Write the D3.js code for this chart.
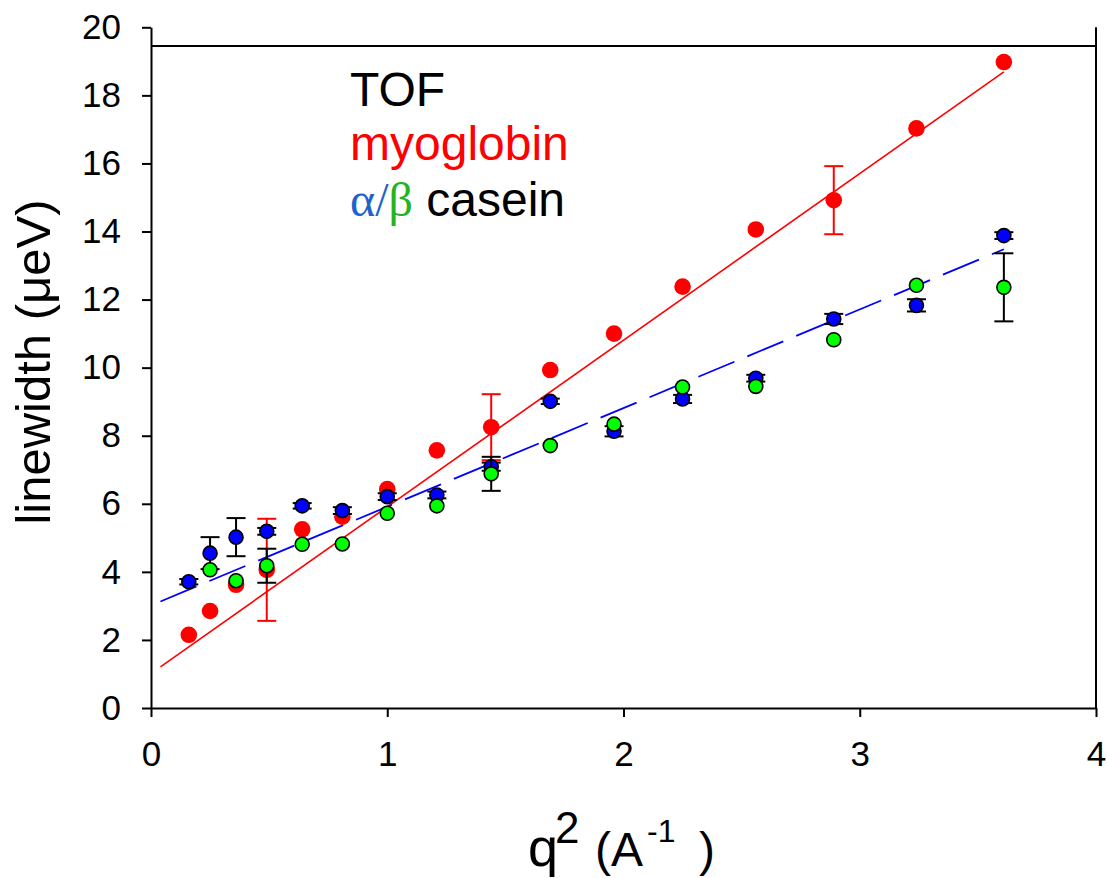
<!DOCTYPE html>
<html>
<head>
<meta charset="utf-8">
<script src="https://cdn.jsdelivr.net/npm/d3@7"></script>
<style>
  body { margin: 0; background: #fff; }
  text { font-family: "Liberation Sans", Arial, sans-serif; }
</style>
</head>
<body>
<script>
const width = 1107;
const height = 878;

// q^2 positions (q = 0.4 ... 1.9)
const q2 = [0.16, 0.25, 0.36, 0.49, 0.64, 0.81, 1.00, 1.21, 1.44, 1.69, 1.96, 2.25, 2.56, 2.89, 3.24, 3.61];

// myoglobin (red)
const myoglobin = [2.15, 2.85, 3.62, 4.06, 5.25, 5.62, 6.43, 7.57, 8.25, 9.93, 11.0, 12.38, 14.06, 14.92, 17.03, 18.98];
const myoglobinErr = [0, 0, 0, 1.5, 0, 0, 0, 0, 0.97, 0, 0, 0, 0, 1.0, 0, 0];

// alpha casein (blue)
const alphaCasein = [3.71, 4.55, 5.02, 5.19, 5.94, 5.80, 6.21, 6.26, 7.09, 9.01, 8.13, 9.08, 9.69, 11.43, 11.83, 13.88];
const alphaErr = [0.08, 0.47, 0.56, 0.1, 0.08, 0.1, 0.1, 0.1, 0.12, 0.08, 0.15, 0.12, 0.1, 0.15, 0.18, 0.1];

// beta casein (green)
const betaCasein = [null, 4.06, 3.74, 4.18, 4.81, 4.82, 5.72, 5.94, 6.88, 7.71, 8.34, 9.43, 9.45, 10.82, 12.42, 12.36];
const betaErr = [0, 0, 0, 0.5, 0, 0, 0, 0, 0.5, 0, 0, 0, 0, 0, 0, 1.0];

// linear fits (end points)
const myoFit = [[0.04, 1.21], [3.61, 18.69]];
const caseinFit = [[0.04, 3.13], [3.61, 13.48]];

const xTicks = [0, 1, 2, 3, 4];
const yTicks = d3.range(0, 21, 2);
const topLine = 19.45;

const x = d3.scaleLinear().domain([0, 4]).range([151, 1096]);
const y = d3.scaleLinear().domain([0, 20]).range([708, 27.3]);

const svg = d3.select('body').append('svg')
  .attr('width', width)
  .attr('height', height);

// axes
const xAxis = d3.axisBottom(x).tickValues(xTicks).tickFormat(d3.format('d'))
  .tickSize(9).tickSizeOuter(0).tickPadding(24);
const yAxis = d3.axisLeft(y).tickValues(yTicks).tickFormat(d3.format('d'))
  .tickSize(9).tickSizeOuter(0).tickPadding(21);

const gx = svg.append('g')
  .attr('transform', `translate(0,${y(0)})`)
  .call(xAxis);
const gy = svg.append('g')
  .attr('transform', `translate(${x(0)},0)`)
  .call(yAxis);

[gx, gy].forEach(g => {
  g.selectAll('path, line').attr('stroke', '#000').attr('stroke-width', 2);
  g.selectAll('text').attr('font-size', 35).attr('fill', '#000')
    .attr('font-family', '"Liberation Sans", Arial, sans-serif');
});

// right line and top line
svg.append('line')
  .attr('x1', x(4)).attr('x2', x(4))
  .attr('y1', y(0)).attr('y2', y(20))
  .attr('stroke', '#000').attr('stroke-width', 2);
svg.append('line')
  .attr('x1', x(0)).attr('x2', x(4))
  .attr('y1', y(topLine)).attr('y2', y(topLine))
  .attr('stroke', '#000').attr('stroke-width', 2);

// fit lines
const line = d3.line().x(d => x(d[0])).y(d => y(d[1]));
svg.append('path')
  .attr('d', line(myoFit))
  .attr('fill', 'none').attr('stroke', '#ff0000').attr('stroke-width', 1.6);
svg.append('path')
  .attr('d', line(caseinFit))
  .attr('fill', 'none').attr('stroke', '#0000ff').attr('stroke-width', 1.8)
  .attr('stroke-dasharray', '39,14');

function series(values, errs, color, stroke, r, errColor) {
  const data = q2.map((q, i) => ({ q, v: values[i], e: errs[i] })).filter(d => d.v != null);
  const g = svg.append('g');
  const eb = g.selectAll('g.err').data(data.filter(d => d.e > 0)).join('g');
  eb.append('line')
    .attr('x1', d => x(d.q)).attr('x2', d => x(d.q))
    .attr('y1', d => y(d.v - d.e)).attr('y2', d => y(d.v + d.e))
    .attr('stroke', errColor).attr('stroke-width', 2);
  [-1, 1].forEach(s => {
    eb.append('line')
      .attr('x1', d => x(d.q) - 9.5).attr('x2', d => x(d.q) + 9.5)
      .attr('y1', d => y(d.v + s * d.e)).attr('y2', d => y(d.v + s * d.e))
      .attr('stroke', errColor).attr('stroke-width', 2);
  });
  g.selectAll('circle').data(data).join('circle')
    .attr('cx', d => x(d.q)).attr('cy', d => y(d.v))
    .attr('r', r)
    .attr('fill', color)
    .attr('stroke', stroke || 'none')
    .attr('stroke-width', stroke ? 1.6 : 0);
}

series(myoglobin, myoglobinErr, '#ff0000', null, 8.3, '#ff0000');
series(alphaCasein, alphaErr, '#0000ff', '#000', 7, '#000');
series(betaCasein, betaErr, '#00ff00', '#000', 7, '#000');

// legend
const legend = svg.append('g').attr('font-size', 48);
legend.append('text').attr('x', 350).attr('y', 106).attr('fill', '#000').text('TOF');
legend.append('text').attr('x', 350).attr('y', 160).attr('fill', '#ff0000').text('myoglobin');
const l3 = legend.append('text').attr('x', 350).attr('y', 216);
l3.append('tspan').attr('font-family', '"Liberation Serif", serif').attr('fill', '#1e64c8').text('α/');
l3.append('tspan').attr('font-family', '"Liberation Serif", serif').attr('fill', '#22b422').text('β');
l3.append('tspan').attr('fill', '#000').text(' casein');

// y label
svg.append('text')
  .attr('transform', 'translate(50,362) rotate(-90)')
  .attr('text-anchor', 'middle')
  .attr('font-size', 49)
  .attr('fill', '#000')
  .text('linewidth (μeV)');

// x label
const xl = svg.append('text').attr('y', 866).attr('fill', '#000');
xl.append('tspan').attr('x', 528).attr('font-size', 54).text('q');
xl.append('tspan').attr('x', 555).attr('y', 843).attr('font-size', 44).text('2');
xl.append('tspan').attr('x', 595).attr('y', 866).attr('font-size', 48).text('(A');
xl.append('tspan').attr('x', 647).attr('y', 842).attr('font-size', 32).text('-1');
xl.append('tspan').attr('x', 699).attr('y', 866).attr('font-size', 48).text(')');
</script>
</body>
</html>
